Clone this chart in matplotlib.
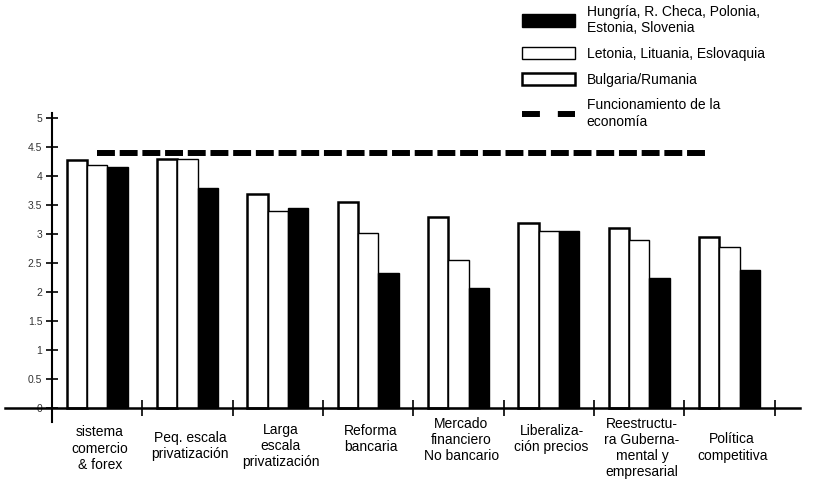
import matplotlib
matplotlib.use("Agg")
import matplotlib.pyplot as plt
import matplotlib.patches as mpatches
import matplotlib.lines as mlines
import numpy as np

# categories (x axis labels)
categories = ["sistema\ncomercio\n& forex", "Peq. escala\nprivatización", "Larga\nescala\nprivatización",
              "Reforma\nbancaria", "Mercado\nfinanciero\nNo bancario", "Liberaliza-\nción precios",
              "Reestructu-\nra Guberna-\nmental y\nempresarial", "Política\ncompetitiva"]

# series values
bulgaria = [4.28, 4.3, 3.69, 3.55, 3.3, 3.2, 3.1, 2.95]
letonia = [4.2, 4.3, 3.4, 3.02, 2.55, 3.05, 2.9, 2.78]
hungria = [4.15, 3.8, 3.45, 2.33, 2.07, 3.05, 2.25, 2.38]
economia = 4.4  # dashed line level

series_names = ["Hungría, R. Checa, Polonia,\nEstonia, Slovenia", "Letonia, Lituania, Eslovaquia",
                "Bulgaria/Rumania", "Funcionamiento de la\neconomía"]
yticks = [0, 0.5, 1, 1.5, 2, 2.5, 3, 3.5, 4, 4.5, 5]
ytick_labels = ["0", "0.5", "1", "1.5", "2", "2.5", "3", "3.5", "4", "4.5", "5"]

plt.rcParams["font.family"] = ["Liberation Sans", "DejaVu Sans"]

fig = plt.figure(figsize=(8.17, 4.98), dpi=100)
ax = fig.add_axes([5 / 817, 76 / 498, 795 / 817, 309 / 498])

x = np.arange(len(categories))
w = 0.225  # bar width
ax.bar(x - w, bulgaria, w, color="white", edgecolor="black", linewidth=1.8)
ax.bar(x, letonia, w, color="white", edgecolor="black", linewidth=1.0)
ax.bar(x + w, hungria, w, color="black", edgecolor="black", linewidth=1.0)

# dashed line for economy
ax.plot([0, 6.77], [economia, economia], color="black", linewidth=4.3, dashes=(3, 0.8), solid_capstyle="butt")

ax.set_xlim(-1.02, 7.78)
ax.set_ylim(-0.24, 5.09)

# axes through the origin like the original
for s in ["top", "right"]:
    ax.spines[s].set_visible(False)
ax.spines["bottom"].set_position(("data", 0))
ax.spines["left"].set_position(("data", -0.5))
ax.spines["bottom"].set_linewidth(1.8)
ax.spines["left"].set_linewidth(1.5)

ax.set_yticks(yticks)
ax.set_yticklabels(ytick_labels, fontsize=7.5, color="#333333")
ax.tick_params(axis="y", direction="inout", length=8, width=1.2, pad=3)
ax.set_xticks(np.arange(0.5, 8, 1))
ax.set_xticklabels([])
ax.tick_params(axis="x", direction="inout", length=12, width=1.2)

# category labels under the axis
label_offsets = [-0.3, -0.4, -0.25, -0.27, -0.15, -0.27, -0.15, -0.42]
for i, lab in enumerate(categories):
    ax.text(i + 0.03, label_offsets[i], lab, ha="center", va="top", fontsize=10,
            linespacing=1.2, clip_on=False)

# legend
handles = [mpatches.Patch(facecolor="black", edgecolor="black"),
           mpatches.Patch(facecolor="white", edgecolor="black", linewidth=1.0),
           mpatches.Patch(facecolor="white", edgecolor="black", linewidth=1.8),
           mlines.Line2D([], [], color="black", linewidth=4.3, dashes=(3, 3))]
ax.legend(handles, series_names, loc="upper left", bbox_to_anchor=(517 / 795, 1.35),
          frameon=False, fontsize=10, handlelength=3.8, handleheight=1.0,
          labelspacing=0.85, handletextpad=0.85, borderaxespad=0, borderpad=0)

fig.savefig("out.png", dpi=100)
